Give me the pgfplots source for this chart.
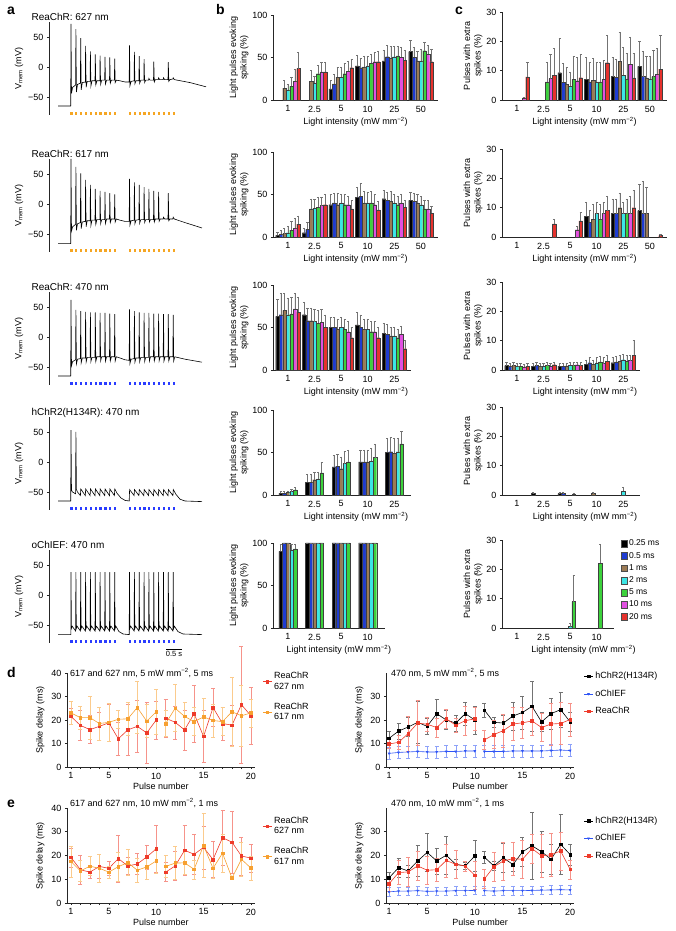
\documentclass[border=0pt]{standalone}
\usepackage{fontspec}
\setmainfont{Liberation Sans}
\usepackage{pgfplots}
\usepackage{pgfplotstable}
\pgfplotsset{compat=1.18}
\definecolor{C1}{HTML}{000000}
\definecolor{C2}{HTML}{1E3CD2}
\definecolor{C3}{HTML}{9C7B55}
\definecolor{C4}{HTML}{3CE6E6}
\definecolor{C5}{HTML}{3CD23C}
\definecolor{C6}{HTML}{E150E1}
\definecolor{C7}{HTML}{E6322D}
\definecolor{Rd}{HTML}{EE3B2B}
\definecolor{Or}{HTML}{F7A030}
\definecolor{Bl}{HTML}{2F55F5}
\definecolor{dotor}{HTML}{F5A623}
\definecolor{dotbl}{HTML}{2A3CFF}
\newcommand\fs{\fontsize{9}{10.5}\selectfont}
\pgfplotsset{
  /pgf/number format/assume math mode=true,
  every axis/.append style={font=\fs, anchor=south west, clip=false,
     axis line style={black!85, line width=0.5pt}, tick style={black!85, line width=0.5pt},
     tick align=outside, major tick length=2.2pt,
     xticklabel={\pgfmathprintnumber[assume math mode=true]{\tick}},
     yticklabel={\pgfmathprintnumber[assume math mode=true]{\tick}},
     tick label style={font=\fs}, label style={font=\fs}},
  trace/.style={x=1pt, y=0.6pt, xmin=49, xmax=206, ymin=-80, ymax=75,
     axis x line=none, axis y line*=left, ytick={-50,0,50}, yticklabels={−50,0,50},
     ylabel={V\textsubscript{mem} (mV)}, ylabel style={yshift=-2pt}},
  barb/.style={x=26.6pt, y=0.85pt, xmin=-0.56, ymin=0, ymax=100,
     axis x line*=bottom, axis y line*=left, ytick={0,50,100},
     major x tick style={draw=none}, xticklabels={1,2.5,5,10,25,50}, xtick={0,...,5},
     xlabel={Light intensity (mW mm\textsuperscript{−2})}, xlabel style={yshift=2pt},
     ylabel={Light pulses evoking\\spiking (\%)}, ylabel style={align=center, yshift=-3pt}},
  barc/.style={x=26.6pt, y=2.9333pt, xmin=-0.56, ymin=0, ymax=30,
     axis x line*=bottom, axis y line*=left, ytick={0,10,20,30},
     major x tick style={draw=none}, xticklabels={1,2.5,5,10,25,50}, xtick={0,...,5},
     xlabel={Light intensity (mW mm\textsuperscript{−2})}, xlabel style={yshift=2pt},
     ylabel={Pulses with extra\\spikes (\%)}, ylabel style={align=center, yshift=-3pt}},
  lineleg/.style={legend image code/.code={\draw[mark repeat=2,mark phase=2,##1] plot coordinates {(0pt,0pt)(4.5pt,0pt)(9pt,0pt)};}},
  lbox/.style={legend image code/.code={\draw[##1,draw=black!70,line width=0.3pt] (0pt,-3.4pt) rectangle (6.5pt,3.4pt);}},
  dax/.style={ymin=0, ymax=40, axis x line*=bottom, axis y line*=left,
     xtick={1,...,20}, xticklabels={1,,,,5,,,,,10,,,,,15,,,,,20},
     xlabel={Pulse number}, ylabel={Spike delay (ms)}, lineleg,
     xlabel style={yshift=3pt},
     legend style={draw=none, fill=none, font=\fs, cells={anchor=west, align=left}, inner sep=0pt}},
}
\def\bw{3.5pt}
\newcommand\bb[5][]{\addplot[#1,ybar,bar width=\bw,bar shift=0pt,fill=#2,draw=black!75,line width=0.25pt,
   error bars/.cd, y dir=plus, y explicit, error bar style={black!55,line width=0.45pt},
   error mark options={black!55,rotate=90,mark size=1.1pt,line width=0.45pt}]
   table[x expr=\thisrow{x}+#3,y=v#5,y error=e#5]{#4};}
\newcommand\seven[1]{\bb{C1}{-0.3947}{#1}{1}\bb{C2}{-0.2632}{#1}{2}\bb{C3}{-0.1316}{#1}{3}\bb{C4}{0}{#1}{4}\bb{C5}{0.1316}{#1}{5}\bb{C6}{0.2632}{#1}{6}\bb{C7}{0.3947}{#1}{7}}
\newcommand\five[1]{\bb{C1}{-0.2707}{#1}{1}\bb{C2}{-0.1353}{#1}{2}\bb{C3}{0}{#1}{3}\bb{C4}{0.1353}{#1}{4}\bb{C5}{0.2707}{#1}{5}}
\newcommand\ser[4]{\addplot[#1,line width=0.6pt,mark=#2,mark size=1.3pt,mark options={solid,#3},unbounded coords=jump,
   error bars/.cd, y dir=both, y explicit, error bar style={#1!55,line width=0.5pt},
   error mark options={#1!55,rotate=90,mark size=2pt,line width=0.5pt}] table[x=x,y=y,y error=e]{#4};}
\newcommand\pulsedots[1]{\addplot[#1, only marks, mark=square*, mark size=0.6pt, line width=0.2pt] coordinates {(71,-77)(75.9,-77)(80.7,-77)(85.6,-77)(90.4,-77)(95.3,-77)(100.1,-77)(105,-77)(109.8,-77)(114.7,-77)(129.5,-77)(134.4,-77)(139.2,-77)(144.1,-77)(148.9,-77)(153.8,-77)(158.6,-77)(163.5,-77)(168.3,-77)(173.2,-77)};}

% ---------- bar data ----------
\pgfplotstableread{
x v1 e1 v2 e2 v3 e3 v4 e4 v5 e5 v6 e6 v7 e7
0 nan 0 nan 0 14 9 12 6 16 11 22 14 37 19
1 nan 0 nan 0 22 13 20 8 31 10 33 11 33 11
2 13 10 19 11 27 11 27 11 31 12 34 12 38 10
3 40 13 38 11 39 13 40 12 43 11 45 11 45 12
4 46 13 51 13 49 14 51 12 52 11 50 12 47 11
5 57 13 50 12 46 11 46 14 58 10 54 10 45 15
}\tbBa
\pgfplotstableread{
x v1 e1 v2 e2 v3 e3 v4 e4 v5 e5 v6 e6 v7 e7
0 2 4 3 5 4 6 5 8 8 10 10 12 15 10
1 5 5 9 8 33 12 34 10 35 12 37 10 38 12
2 38 12 40 12 38 14 40 10 38 12 38 10 33 10
3 47 12 48 15 40 14 40 13 40 14 38 12 32 10
4 45 10 43 10 42 12 40 10 38 10 40 10 35 8
5 43 10 42 10 40 10 38 10 33 10 33 10 28 8
}\tbBb
\pgfplotstableread{
x v1 e1 v2 e2 v3 e3 v4 e4 v5 e5 v6 e6 v7 e7
0 63 20 65 25 70 20 65 20 66 20 72 18 68 18
1 65 15 58 15 58 15 57 15 55 15 56 15 50 15
2 50 12 50 12 48 12 50 12 48 12 45 12 38 12
3 53 15 50 15 48 12 48 12 45 12 45 12 38 12
4 43 12 42 12 40 10 40 10 38 10 42 10 25 10
}\tbBc
\pgfplotstableread{
x v1 e1 v2 e2 v3 e3 v4 e4 v5 e5
0 2 2 2 2 3 2 4 3 6 3
1 15 9 15 9 18 9 19 8 26 12
2 33 14 34 14 31 14 37 14 39 14
3 39 14 39 14 39 14 40 15 44 16
4 50 17 51 17 49 18 51 16 60 15
}\tbBd
\pgfplotstableread{
x v1 e1 v2 e2 v3 e3 v4 e4 v5 e5
0 90 8 100 0 100 0 92 7 93 6
1 100 0 100 0 100 0 100 0 100 0
2 100 0 100 0 100 0 100 0 100 0
3 100 0 100 0 100 0 100 0 100 0
}\tbBe
\pgfplotstableread{
x v1 e1 v2 e2 v3 e3 v4 e4 v5 e5 v6 e6 v7 e7
0 nan 0 nan 0 nan 0 nan 0 nan 0 0.7 0.3 7.9 5
1 nan 0 nan 0 nan 0 nan 0 6.2 6.8 7.3 8.2 8.5 9
2 9.3 11.7 6 6.5 5.3 5.7 4.6 4.9 7 7.8 6.6 7.9 7.6 7.9
3 7 7.5 6.2 6.8 6.8 7.5 6.2 6.6 6.2 6.8 7 6.5 12.7 9.3
4 8 6.5 7.7 6.3 13.2 9.8 8.5 9.5 7.2 8.8 12.2 9.3 7.5 8.5
5 11.5 8.5 8 8.5 7.5 7.5 7.2 7.8 8 9 8.8 8.7 10.5 11.5
}\tbCa
\pgfplotstableread{
x v1 e1 v2 e2 v3 e3 v4 e4 v5 e5 v6 e6 v7 e7
0 nan 0 nan 0 nan 0 nan 0 nan 0 nan 0 nan 0
1 nan 0 nan 0 nan 0 nan 0 nan 0 nan 0 4.5 1.5
2 nan 0 nan 0 nan 0 nan 0 nan 0 2.5 1 5.5 3
3 7 5 5 4 6 5 8 4 6 5 8 4 9 5
4 8 5 8 5 10 5 8 4 8 5 8 6 10 6
5 9 9 8 11 8 9 nan 0 nan 0 nan 0 0.5 0.3
}\tbCb
\pgfplotstableread{
x v1 e1 v2 e2 v3 e3 v4 e4 v5 e5 v6 e6 v7 e7
0 1.5 1 1.2 1 1.5 1 1.2 1 1.3 1 1.0 1 1.2 1
1 1.2 1 1.5 1 1.2 1 1.3 1 1.5 1 1.3 1 1.8 1
2 1.3 1 1.2 1 1.4 1 1.6 1 1.5 1 1.8 1 1.5 1
3 2 1.5 2.5 2 2 1.5 2.4 2 2.8 2 2.2 2 3 2
4 2.5 2 2.8 2 3 2 3.5 2 3 2 3.2 2 5 5
}\tbCc
\pgfplotstableread{
x v1 e1 v2 e2 v3 e3 v4 e4 v5 e5
0 nan 0 nan 0 nan 0 nan 0 nan 0
1 0.5 0.3 nan 0 nan 0 nan 0 nan 0
2 0.5 0.3 0.5 0.3 nan 0 nan 0 0.4 0.3
3 nan 0 nan 0 0.5 0.3 nan 0 nan 0
4 nan 0 nan 0 nan 0 1.3 1.5 nan 0
}\tbCd
\pgfplotstableread{
x v4 e4 v5 e5
2 0.5 1 9 9
3 nan 0 22 6.5
}\tbCe
% ---------- delay data ----------
\pgfplotstableread{
x y e
1 21.5 3.5
2 17.7 6.5
3 15.9 6
4 17.3 6
5 18.8 8
6 12.0 7
7 15.8 11
8 17.3 11
9 14.5 13
10 20.0 8
10.5 nan nan
11 20.8 8
12 19.0 7
13 15.8 8.5
14 22.7 12
15 13.0 11
16 25.3 8
17 18.5 7
18 17.8 8.5
19 26.5 25
20 21.8 12
}\dLr
\pgfplotstableread{
x y e
1 23.0 5
2 21.0 5
3 21.0 9
4 18.5 7
5 19.0 8
6 20.3 4
7 20.5 7
8 25.3 11
9 19.5 7
10 23.5 9.5
10.5 nan nan
11 18.5 5.5
12 25.0 10
13 21.5 6
14 19.3 6
15 21.3 8
16 19.8 7
17 19.3 6
18 23.5 14.5
19 21.8 13
20 23.0 6
}\dLo
\pgfplotstableread{
x y e
1 12.2 3
2 15.3 3.5
3 17.0 4
4 19.0 9
5 17.3 3.5
6 22.7 6
7 20.0 4
8 18.7 3.5
9 22.7 5
10 20.0 6
10.5 nan nan
11 24.2 3
12 19.0 2
13 18.7 3.5
14 21.7 6
15 23.2 7
16 25.8 10.5
17 19.2 4
18 22.7 6.5
19 24.4 7.5
20 19.2 4
}\dRk
\pgfplotstableread{
x y e
1 5.8 2.5
2 6.2 2.5
3 6.4 2.5
4 6.6 2.5
5 6.4 2.5
6 6.4 2.5
7 6.6 2.5
8 6.6 2.5
9 6.8 2.5
10 6.8 2.5
10.5 nan nan
11 6.6 2.5
12 6.6 2.5
13 6.6 2.5
14 6.8 2.5
15 6.8 2.5
16 6.8 2.5
17 6.8 2.5
18 7.0 2.5
19 7.2 2.5
20 7.0 2.5
}\dRb
\pgfplotstableread{
x y e
1 9.8 2
2 10.5 3
3 14.2 7.5
4 18.7 9.5
5 18.2 3
6 16.8 4
7 20.5 4
8 17.8 3
9 19.7 6
10 20.5 5
10.5 nan nan
11 11.5 4
12 13.8 6
13 15.5 7
14 18.3 7
15 18.8 6.5
16 19.6 6
17 16.8 6
18 18.3 9
19 18.5 9
20 20.2 7
}\dRr
\pgfplotstableread{
x y e
1 19.2 4
2 14.0 6
3 13.0 2.5
4 15.4 5
5 14.6 3
6 18.7 10
7 15.6 3.5
8 16.4 4.5
9 19.4 5
10 22.8 10
10.5 nan nan
11 13.0 4
12 15.6 6
13 22.2 10.5
14 20.5 8.5
15 23.4 9
16 18.3 7.5
17 27.5 11.5
18 25.6 13
19 19.8 8
20 18.9 6
}\eLr
\pgfplotstableread{
x y e
1 17.5 6.5
2 13.5 4.5
3 15.5 4
4 14.6 6
5 13.0 2.5
6 15.3 6
7 17.0 5.5
8 13.8 5
9 15.2 5
10 17.7 5
10.5 nan nan
11 15.4 4.5
12 16.8 7
13 16.9 5
14 14.2 4
15 24.2 13.5
16 14.6 4
17 21.0 8
18 10.5 0.5
19 18.4 7
20 14.7 5
}\eLo
\pgfplotstableread{
x y e
1 10.6 2.5
2 14.9 4
3 13.5 2.5
4 17.7 6.5
5 21.3 8
6 17.7 5.5
7 20.1 8
8 16.3 2
9 15.6 1.5
10 19.8 6.5
10.5 nan nan
11 19.3 2.5
12 15.6 2
13 19.0 6
14 16.2 3
15 21.5 6
16 24.1 14
17 21.6 8.5
18 18.4 6.5
19 24.7 12.5
20 20.4 4.5
}\eRk
\pgfplotstableread{
x y e
1 4.7 1.8
2 5.0 1.8
3 5.0 1.8
4 5.2 1.8
5 4.9 1.8
6 5.0 1.8
7 5.0 1.8
8 5.2 1.8
9 5.2 1.8
10 5.3 1.8
10.5 nan nan
11 5.2 1.8
12 5.0 1.8
13 5.2 1.8
14 5.2 1.8
15 5.2 1.8
16 5.3 1.8
17 5.4 1.8
18 5.5 1.8
19 5.6 1.8
20 5.5 1.8
}\eRb
\pgfplotstableread{
x y e
1 8.1 3
2 12.8 5
3 13.1 6
4 15.6 6
5 13.8 6
6 14.0 5
7 17.9 7
8 16.3 6
9 15.5 2
10 11.7 6
10.5 nan nan
11 10.1 4
12 15.3 6
13 17.7 8
14 18.7 7
15 18.4 8
16 22.9 6
17 19.9 9
18 20.3 9
19 21.9 8
20 14.2 4
}\eRr

\begin{document}
\begin{tikzpicture}
\useasboundingbox (0pt,0pt) rectangle (675pt,931pt);
\tikzset{lett/.style={font=\bfseries\fontsize{14}{14}\selectfont, anchor=base west, inner sep=0pt}}
\node[lett] at (7pt,916pt) {a};
\node[lett] at (216pt,916pt) {b};
\node[lett] at (455pt,916pt) {c};
\node[lett] at (7pt,253pt) {d};
\node[lett] at (7pt,123pt) {e};

% ================= a =================
\begin{axis}[trace, at={(49pt,816pt)}]
\addplot[black, line width=0.6pt] coordinates {(58,-65)(70.7,-65)(71,72)(71.5,-44)(72.6,-34)
(75.6,-30)(75.9,63)(76.4,-42)(77.5,-29)(80.4,-27)(80.7,48)(81.2,-38)(82.3,-26)
(85.3,-25)(85.6,35)(86.1,-34)(87.2,-24)(90.1,-24)(90.4,26)(90.9,-32)(92,-23)
(95,-23)(95.3,21)(95.8,-30)(96.9,-23)(99.8,-23)(100.1,19)(100.6,-29)(101.7,-22)
(104.7,-22)(105,17)(105.5,-28)(106.6,-22)(109.5,-22)(109.8,16)(110.3,-27)(111.4,-22)
(114.4,-22)(114.7,14)(115.2,-26)(116.3,-22)(120,-23)(125,-25)(129.2,-25)
(129.5,36)(130,-31)(131.1,-24)(134.1,-23)(134.4,25)(134.9,-28)(136,-23)
(138.9,-23)(139.2,18)(139.7,-27)(140.8,-22)(143.8,-22)(144.1,13)(144.6,-26)(145.7,-22)
(148.6,-22)(148.9,-19)(150,-22)(153.5,-22)(153.8,9)(154.3,-25)(155.4,-21)
(158.3,-21)(158.6,-18)(159.7,-21)(163.2,-21)(163.5,-18)(164.6,-21)
(168,-21)(168.3,8)(168.8,-24)(169.9,-21)(172.9,-20)(173.2,-18)(174.3,-21)(190,-26)(206,-33)};
\pulsedots{dotor}
\end{axis}
\node[anchor=base west] at (28pt,910pt) {ReaChR: 627 nm};

\begin{axis}[trace, at={(49pt,679pt)}]
\addplot[black, line width=0.6pt] coordinates {(58,-66)(70.7,-66)(71,75)(71.5,-45)(72.6,-38)
(75.6,-34)(75.9,62)(76.4,-44)(77.5,-33)(80.4,-31)(80.7,51)(81.2,-41)(82.3,-30)
(85.3,-29)(85.6,40)(86.1,-38)(87.2,-28)(90.1,-28)(90.4,32)(90.9,-36)(92,-27)
(95,-27)(95.3,25)(95.8,-34)(96.9,-26)(99.8,-26)(100.1,22)(100.6,-33)(101.7,-26)
(104.7,-26)(105,20)(105.5,-32)(106.6,-25)(109.5,-25)(109.8,18)(110.3,-31)(111.4,-25)
(114.4,-25)(114.7,16)(115.2,-30)(116.3,-25)(120,-27)(125,-29)(129.2,-29)
(129.5,42)(130,-35)(131.1,-28)(134.1,-27)(134.4,36)(134.9,-33)(136,-27)
(138.9,-26)(139.2,32)(139.7,-32)(140.8,-26)(143.8,-26)(144.1,28)(144.6,-31)(145.7,-26)
(148.6,-26)(148.9,25)(149.4,-30)(150.5,-26)(153.5,-26)(153.8,22)(154.3,-30)(155.4,-25)
(158.3,-25)(158.6,20)(159.1,-29)(160.2,-25)(163.2,-25)(163.5,-22)(164.6,-25)
(168,-25)(168.3,18)(168.8,-28)(169.9,-25)(172.9,-25)(173.2,-22)(174.3,-25)(185,-31)(202,-40)};
\pulsedots{dotor}
\end{axis}
\node[anchor=base west] at (28pt,773pt) {ReaChR: 617 nm};

\begin{axis}[trace, at={(49pt,546pt)}]
\addplot[black, line width=0.6pt] coordinates {(58,-65)(70.7,-65)(71,62)(71.5,-48)(72.6,-41)
(75.6,-38)(75.9,45)(76.4,-45)(77.5,-37)(80.4,-36)(80.7,43)(81.2,-43)(82.3,-35)
(85.3,-35)(85.6,42)(86.1,-42)(87.2,-34)(90.1,-34)(90.4,41)(90.9,-41)(92,-34)
(95,-34)(95.3,41)(95.8,-41)(96.9,-33)(99.8,-33)(100.1,40)(100.6,-40)(101.7,-33)
(104.7,-33)(105,40)(105.5,-40)(106.6,-33)(109.5,-33)(109.8,39)(110.3,-40)(111.4,-33)
(114.4,-33)(114.7,38)(115.2,-40)(116.3,-33)(120,-35)(125,-38)(129.2,-39)
(129.5,46)(130,-44)(131.1,-37)(134.1,-36)(134.4,43)(134.9,-42)(136,-35)
(138.9,-35)(139.2,41)(139.7,-41)(140.8,-34)(143.8,-34)(144.1,40)(144.6,-41)(145.7,-34)
(148.6,-34)(148.9,40)(149.4,-40)(150.5,-33)(153.5,-33)(153.8,39)(154.3,-40)(155.4,-33)
(158.3,-33)(158.6,39)(159.1,-40)(160.2,-33)(163.2,-33)(163.5,38)(164,-40)(165.1,-33)
(168,-33)(168.3,38)(168.8,-40)(169.9,-33)(172.9,-33)(173.2,37)(173.7,-40)(174.8,-33)(185,-37)(202,-42)};
\pulsedots{dotbl}
\end{axis}
\node[anchor=base west] at (28pt,640pt) {ReaChR: 470 nm};

\begin{axis}[trace, at={(49pt,421pt)}]
\addplot[black, line width=0.6pt] coordinates {(58,-65)(70.7,-65)(71,53)(71.5,-47)(72.5,-50)(75.6,-53)(75.9,50)(76.4,-46)(77.5,-50)
(80.4,-56)(80.8,-45)(85.3,-56)(85.7,-45)(90.1,-56)(90.5,-45)(95,-56)(95.4,-45)(99.8,-56)(100.2,-45)
(104.7,-56)(105.1,-45)(109.5,-56)(109.9,-45)(114.4,-56)(114.8,-45)(117,-52)(121,-60)(125,-64)(129.2,-65)
(129.6,-46)(134.1,-56)(134.5,-46)(138.9,-56)(139.3,-46)(143.8,-56)(144.2,-46)(148.6,-56)(149,-46)
(153.5,-56)(153.9,-46)(158.3,-56)(158.7,-46)(163.2,-56)(163.6,-46)(168,-56)(168.4,-46)(172.9,-56)(173.3,-46)
(176,-54)(180,-62)(185,-65)(202,-66)};
\pulsedots{dotbl}
\end{axis}
\node[anchor=base west] at (28pt,515pt) {hChR2(H134R): 470 nm};

\begin{axis}[trace, at={(49pt,288pt)}]
\addplot[black, line width=0.6pt] coordinates {(58,-66)(70.8,-66)
(71,38)(71.4,-56)(72.2,-52)(75.6,-60)(75.9,38)(76.3,-56)(77.1,-52)(80.4,-60)
(80.7,38)(81.1,-56)(81.9,-52)(85.3,-60)(85.6,38)(86,-56)(86.8,-52)(90.1,-60)
(90.4,38)(90.8,-56)(91.6,-52)(95,-60)(95.3,38)(95.7,-56)(96.5,-52)(99.8,-60)
(100.1,38)(100.5,-56)(101.3,-52)(104.7,-60)(105,38)(105.4,-56)(106.2,-52)(109.5,-60)
(109.8,38)(110.2,-56)(111,-52)(114.4,-60)(114.7,38)(115.1,-56)(115.9,-52)(119,-61)(123,-65)(129.2,-66)
(129.5,38)(129.9,-56)(130.7,-52)(134.1,-60)(134.4,38)(134.8,-56)(135.6,-52)(138.9,-60)
(139.2,38)(139.6,-56)(140.4,-52)(143.8,-60)(144.1,38)(144.5,-56)(145.3,-52)(148.6,-60)
(148.9,38)(149.3,-56)(150.1,-52)(153.5,-60)(153.8,38)(154.2,-56)(155,-52)(158.3,-60)
(158.6,38)(159,-56)(159.8,-52)(163.2,-60)(163.5,38)(163.9,-56)(164.7,-52)(168,-60)
(168.3,38)(168.7,-56)(169.5,-52)(172.9,-60)(173.2,38)(173.6,-56)(174.4,-52)(178,-61)(183,-65)(202,-66)};
\pulsedots{dotbl}
\draw[black, line width=0.6pt] (axis cs:166,-90) -- (axis cs:182,-90);
\node[anchor=north, font=\fontsize{7.5}{9}\selectfont, inner sep=1pt] at (axis cs:174,-91) {0.5 s};
\end{axis}
\node[anchor=base west] at (28pt,382pt) {oChIEF: 470 nm};

% ================= b =================
\begin{axis}[barb, at={(273pt,831pt)}, xmax=5.64]
\seven{\tbBa}
\end{axis}
\begin{axis}[barb, at={(273pt,694pt)}, xmax=5.64]
\seven{\tbBb}
\end{axis}
\begin{axis}[barb, at={(273pt,561pt)}, xmax=4.64, xtick={0,...,4}, xlabel style={at={(ticklabel cs:0.6)}}]
\seven{\tbBc}
\end{axis}
\def\bw{3.6pt}
\begin{axis}[barb, at={(273pt,436pt)}, xmax=4.64, xtick={0,...,4}, xlabel style={at={(ticklabel cs:0.6)}}]
\five{\tbBd}
\end{axis}
\begin{axis}[barb, at={(273pt,303pt)}, xmax=3.64, xtick={0,...,3}, xlabel style={at={(ticklabel cs:0.59)}}]
\five{\tbBe}
\end{axis}
\def\bw{3.5pt}
% ================= c =================
\begin{axis}[barc, at={(502pt,831pt)}, xmax=5.64]
\seven{\tbCa}
\end{axis}
\begin{axis}[barc, at={(502pt,694pt)}, xmax=5.64]
\seven{\tbCb}
\end{axis}
\begin{axis}[barc, at={(502pt,561pt)}, xmax=4.64, xtick={0,...,4}, xlabel style={at={(ticklabel cs:0.6)}}]
\seven{\tbCc}
\end{axis}
\begin{axis}[barc, at={(502pt,436pt)}, xmax=4.64, xtick={0,...,4}, xlabel style={at={(ticklabel cs:0.6)}}]
\bb{C1}{-0.3947}{\tbCd}{1}\bb{C2}{-0.2632}{\tbCd}{2}\bb{C3}{-0.1316}{\tbCd}{3}\bb{C4}{0}{\tbCd}{4}\bb{C5}{0.1316}{\tbCd}{5}
\end{axis}
\begin{axis}[barc, at={(502pt,303pt)}, xmax=3.64, xtick={0,...,3}, xlabel style={at={(ticklabel cs:0.73)}},
   legend style={at={(1.06,1.02)}, anchor=north west, draw=none, fill=none, font=\fontsize{8.5}{9.5}\selectfont,
   row sep=1.6pt, inner sep=0pt, nodes={inner sep=1.6pt}}, legend cell align=left]
\bb[forget plot]{C4}{0}{\tbCe}{4}\bb[forget plot]{C5}{0.1316}{\tbCe}{5}
\addlegendimage{lbox, fill=C1}\addlegendentry{0.25 ms}
\addlegendimage{lbox, fill=C2}\addlegendentry{0.5 ms}
\addlegendimage{lbox, fill=C3}\addlegendentry{1 ms}
\addlegendimage{lbox, fill=C4}\addlegendentry{2 ms}
\addlegendimage{lbox, fill=C5}\addlegendentry{5 ms}
\addlegendimage{lbox, fill=C6}\addlegendentry{10 ms}
\addlegendimage{lbox, fill=C7}\addlegendentry{20 ms}
\end{axis}

% ================= d =================
\begin{axis}[dax, at={(67pt,164pt)}, x=9.47pt, y=2.35pt, xmin=0.58, xmax=20.42, ytick={0,10,20,30,40},
   legend style={at={(1.04,1.03)}, anchor=north west, row sep=8pt}]
\ser{Rd}{square*}{Rd}{\dLr}\addlegendentry{ReaChR\\627 nm}
\ser{Or}{square*}{Or}{\dLo}\addlegendentry{ReaChR\\617 nm}
\node[anchor=west, inner sep=0pt] at (axis cs:0.9,40) {617 and 627 nm, 5 mW mm\textsuperscript{−2}, 5 ms};
\end{axis}
\begin{axis}[dax, at={(386pt,164pt)}, x=9.53pt, y=2.35pt, xmin=0.68, xmax=20.42, ytick={0,10,20,30},
   legend style={at={(1.05,1.03)}, anchor=north west, row sep=5.5pt}]
\ser{black}{square*}{black}{\dRk}\addlegendentry{hChR2(H134R)}
\ser{Bl}{triangle*}{Bl,rotate=180,scale=0.8}{\dRb}\addlegendentry{oChIEF}
\ser{Rd}{square*}{Rd}{\dRr}\addlegendentry{ReaChR}
\node[anchor=west, inner sep=0pt] at (axis cs:1.2,40) {470 nm, 5 mW mm\textsuperscript{−2}, 5 ms};
\end{axis}
% ================= e =================
\begin{axis}[dax, at={(67pt,28pt)}, x=9.47pt, y=2.375pt, xmin=0.58, xmax=20.42, ytick={0,10,20,30,40},
   legend style={at={(1.04,0.93)}, anchor=north west, row sep=8pt}]
\ser{Rd}{square*}{Rd}{\eLr}\addlegendentry{ReaChR\\627 nm}
\ser{Or}{square*}{Or}{\eLo}\addlegendentry{ReaChR\\617 nm}
\node[anchor=west, inner sep=0pt] at (axis cs:0.9,42) {617 and 627 nm, 10 mW mm\textsuperscript{−2}, 1 ms};
\end{axis}
\begin{axis}[dax, at={(386pt,28pt)}, x=9.53pt, y=2.375pt, xmin=0.68, xmax=20.42, ytick={0,10,20,30},
   legend style={at={(1.05,0.93)}, anchor=north west, row sep=5.5pt}]
\ser{black}{square*}{black}{\eRk}\addlegendentry{hChR2(H134R)}
\ser{Bl}{triangle*}{Bl,rotate=180,scale=0.8}{\eRb}\addlegendentry{oChIEF}
\ser{Rd}{square*}{Rd}{\eRr}\addlegendentry{ReaChR}
\node[anchor=west, inner sep=0pt] at (axis cs:1.2,42) {470 nm, 10 mW mm\textsuperscript{−2}, 1 ms};
\end{axis}
\end{tikzpicture}
\end{document}
